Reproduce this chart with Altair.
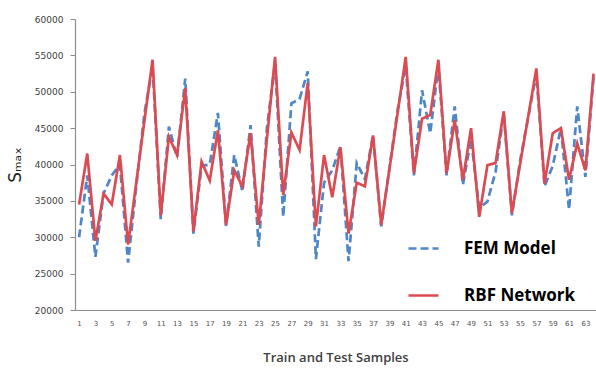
import altair as alt
import pandas as pd

samples = list(range(1, 65))

fem_model = [30000, 38500, 27300, 36000, 38500, 40000, 26500, 37000, 47000, 53500,
             32500, 45200, 41000, 51800, 30500, 39800, 40000, 47100, 31500, 41300,
             36300, 45400, 28700, 45000, 54000, 32800, 48400, 49000, 52800, 27000,
             37500, 39200, 42500, 26700, 40200, 38000, 44000, 31500, 39500, 47500,
             53500, 38500, 50200, 44300, 53500, 38500, 48000, 37200, 43500, 34000,
             34900, 39000, 47000, 33000, 40500, 46500, 52500, 37000, 39800, 45000,
             33800, 48000, 38300, 52000]

rbf_network = [34500, 41500, 29500, 36000, 34500, 41300, 29000, 37500, 46000, 54400,
               33000, 43800, 41300, 50500, 30800, 40400, 37800, 44700, 31700, 39200,
               37000, 44300, 31700, 43500, 54800, 35800, 44400, 42000, 51200, 31500,
               41300, 35500, 42400, 30500, 37500, 37000, 44000, 31700, 39300, 47000,
               54800, 38800, 46300, 46800, 54400, 38800, 46100, 37900, 45000, 32800,
               39900, 40200, 47300, 33300, 40000, 46600, 53200, 37400, 44300, 45000,
               37900, 42900, 39200, 52500]

series_names = ["FEM Model", "RBF Network"]
series_colors = ["#4F86C6", "#DC4B52"]
x_tick_labels = list(range(1, 64, 2))
y_tick_values = [20000, 25000, 30000, 35000, 40000, 45000, 50000, 55000, 60000]

df = pd.DataFrame({
    "sample": samples * 2,
    "value": fem_model + rbf_network,
    "series": [series_names[0]] * len(samples) + [series_names[1]] * len(samples),
})

chart = alt.Chart(df).mark_line(strokeWidth=2.7).encode(
    x=alt.X("sample:Q",
            scale=alt.Scale(domain=[0.5, 64.3], nice=False, zero=False),
            axis=alt.Axis(values=x_tick_labels, ticks=False, grid=False,
                          labelFont="DejaVu Sans", labelFontSize=7, labelColor="#505050",
                          labelPadding=9, domainColor="#8c8c8c", domainWidth=1.2,
                          labelFlush=False, labelOverlap=False,
                          title="Train and Test Samples", titleFont="Open Sans",
                          titleFontSize=13, titleFontWeight=600, titleColor="#404040",
                          titleBaseline="alphabetic", titleY=51)),
    y=alt.Y("value:Q",
            scale=alt.Scale(domain=[20000, 60000], nice=False, zero=False),
            axis=alt.Axis(values=y_tick_values, grid=False, format="d",
                          labelFont="DejaVu Sans", labelFontSize=9, labelColor="#404040",
                          tickSize=5, tickColor="#8c8c8c", labelPadding=7,
                          domainColor="#8c8c8c", domainWidth=1.2,
                          title="Sₘₐₓ", titleFont="DejaVu Sans", titleFontSize=17,
                          titleFontWeight="normal", titleColor="#202020",
                          titleAngle=-90, titleBaseline="alphabetic", titleX=-55)),
    color=alt.Color("series:N",
                    scale=alt.Scale(domain=series_names, range=series_colors),
                    legend=alt.Legend(title=None, orient="none", legendX=332, legendY=213,
                                      symbolType="stroke", symbolSize=900,
                                      symbolStrokeWidth=2.7, labelFont="Open Sans",
                                      labelFontSize=17, labelFontWeight="bold",
                                      labelColor="#000000", labelOffset=24,
                                      rowPadding=22, padding=0)),
    strokeDash=alt.StrokeDash("series:N",
                              scale=alt.Scale(domain=series_names, range=[[8, 4], [1, 0]]),
                              legend=alt.Legend(title=None, orient="none", legendX=332, legendY=213,
                                                symbolType="stroke", symbolSize=900,
                                                symbolStrokeWidth=2.7, labelFont="Open Sans",
                                                labelFontSize=17, labelFontWeight="bold",
                                                labelColor="#000000", labelOffset=24,
                                                rowPadding=22, padding=0)),
).properties(
    width=521,
    height=291,
    autosize=alt.AutoSizeParams(type="none"),
    padding={"left": 75, "top": 19, "right": 0, "bottom": 61},
    background="white",
).configure_view(stroke=None)

chart.save("out.html", embed_options={"renderer": "svg", "actions": False})
